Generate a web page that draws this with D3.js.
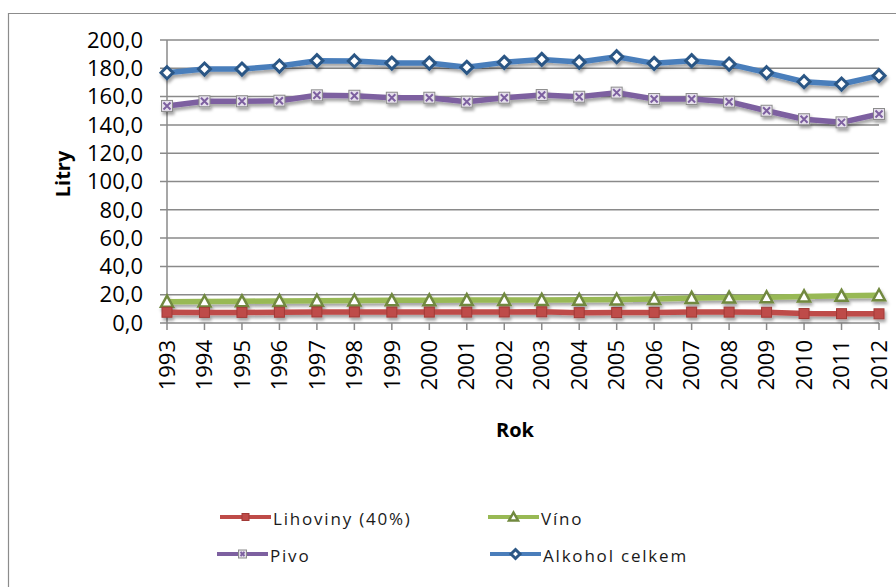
<!DOCTYPE html>
<html><head><meta charset="utf-8">
<script src="https://cdn.jsdelivr.net/npm/d3@7"></script>
<style>body{margin:0;background:#fff}svg{display:block}</style>
</head><body>
<svg id="c" width="896" height="587"></svg>
<script>
const years = ["1993","1994","1995","1996","1997","1998","1999","2000","2001","2002","2003","2004","2005","2006","2007","2008","2009","2010","2011","2012"];
const lihoviny = [7.6,7.5,7.5,7.6,7.8,7.8,7.7,7.7,7.7,7.8,7.9,7.3,7.4,7.5,7.7,7.7,7.6,6.7,6.6,6.5];
const vino = [15.1,15.2,15.3,15.6,15.8,15.9,16.0,16.0,16.2,16.3,16.3,16.4,16.6,16.9,17.7,18.0,18.2,18.8,19.2,19.6];
const pivo = [153.4,156.7,156.7,157.1,160.9,160.6,159.2,159.2,156.4,159.2,161.1,159.9,162.8,158.3,158.3,156.4,150.0,144.0,141.8,147.7];
const alkohol = [176.9,179.5,179.5,181.6,185.4,185.2,183.7,183.7,180.7,184.2,186.3,184.4,188.2,183.5,185.4,183.0,176.9,170.5,168.9,174.8];
const yTicks = [0,20,40,60,80,100,120,140,160,180,200];
const seriesNames = ["Lihoviny (40%)","Víno","Pivo","Alkohol celkem"];

const svg = d3.select("#c");
const font = "Open Sans, Lato, sans-serif";
// outer frame
svg.append("path").attr("d","M8.5,587V13.5H896").attr("fill","none").attr("stroke","#8c8c8c").attr("stroke-width",1.2);

const defs = svg.append("defs");
const f = defs.append("filter").attr("id","sh").attr("x","-10%").attr("y","-50%").attr("width","120%").attr("height","300%");
f.append("feDropShadow").attr("dx",1.5).attr("dy",3).attr("stdDeviation",1.8).attr("flood-color","#000").attr("flood-opacity",0.35);

const x = d3.scalePoint().domain(years).range([167, 879]);
const y = d3.scaleLinear().domain([0,200]).range([323, 40]);

const grid = "#8a8a8a";
// gridlines
svg.append("g").selectAll("line").data(yTicks).join("line")
  .attr("x1",160).attr("x2",879).attr("y1",d=>y(d)).attr("y2",d=>y(d))
  .attr("stroke",grid).attr("stroke-width",1.5);
// y axis line
svg.append("line").attr("x1",167).attr("x2",167).attr("y1",y(200)).attr("y2",y(0)).attr("stroke",grid).attr("stroke-width",1.5);
// x ticks
svg.append("g").selectAll("line").data(years).join("line")
  .attr("x1",d=>x(d)).attr("x2",d=>x(d)).attr("y1",y(0)).attr("y2",y(0)+7)
  .attr("stroke",grid).attr("stroke-width",1.5);

// y labels
svg.append("g").selectAll("text").data(yTicks).join("text")
  .attr("x",143).attr("y",d=>y(d)).attr("dy","0.35em").attr("text-anchor","end")
  .attr("font-family",font).attr("font-size",22).attr("fill","#000")
  .text(d=>d.toFixed(1).replace(".",","));
// x labels
svg.append("g").selectAll("text").data(years).join("text")
  .attr("transform",d=>`translate(${x(d)},340) rotate(-90)`)
  .attr("dy","0.35em").attr("text-anchor","end")
  .attr("font-family",font).attr("font-size",22).attr("fill","#000")
  .text(d=>d);
// axis titles
svg.append("text").attr("transform","translate(63,174) rotate(-90)").attr("dy","0.35em")
  .attr("text-anchor","middle").attr("font-family",font).attr("font-weight","bold").attr("font-size",20).text("Litry");
svg.append("text").attr("x",515).attr("y",437).attr("text-anchor","middle")
  .attr("font-family",font).attr("font-weight","bold").attr("font-size",20).text("Rok");

const colors = {li:"#be4b48", vi:"#98b954", pi:"#7d60a0", al:"#4a7ebb"};
const line = d3.line().x((d,i)=>x(years[i])).y(d=>y(d));

function marker(g, type, cx, cy, s) {
  if (type==="li") {
    g.append("rect").attr("x",cx-s).attr("y",cy-s).attr("width",2*s).attr("height",2*s)
      .attr("fill",colors.li).attr("stroke","#a13a37").attr("stroke-width",1);
  } else if (type==="vi") {
    g.append("path").attr("d",`M${cx},${cy-s-1}L${cx+s+1},${cy+s}L${cx-s-1},${cy+s}Z`)
      .attr("fill","#fff").attr("stroke","#71893f").attr("stroke-width",2.5);
  } else if (type==="pi") {
    g.append("rect").attr("x",cx-s).attr("y",cy-s).attr("width",2*s).attr("height",2*s)
      .attr("fill","#e6e0ec").attr("stroke","#8c8c8c").attr("stroke-width",1);
    g.append("path").attr("d",`M${cx-s+2},${cy-s+2}L${cx+s-2},${cy+s-2}M${cx+s-2},${cy-s+2}L${cx-s+2},${cy+s-2}`)
      .attr("stroke","#7d60a0").attr("stroke-width",2);
  } else {
    g.append("path").attr("d",`M${cx},${cy-s-1}L${cx+s+1},${cy}L${cx},${cy+s+1}L${cx-s-1},${cy}Z`)
      .attr("fill","#fff").attr("stroke","#2c5785").attr("stroke-width",3);
  }
}

const series = [
  {k:"vi", v:vino},
  {k:"li", v:lihoviny},
  {k:"pi", v:pivo},
  {k:"al", v:alkohol}
];
series.forEach(s=>{
  const g = svg.append("g").attr("filter","url(#sh)");
  g.append("path").datum(s.v).attr("d",line).attr("fill","none")
    .attr("stroke",colors[s.k]).attr("stroke-width",5.5).attr("stroke-linejoin","round");
  s.v.forEach((v,i)=>marker(g, s.k, x(years[i]), y(v), s.k==="pi"?5.5:5));
});

// legend
const legend = [
  {k:"li", name:seriesNames[0], x:220, y:517},
  {k:"vi", name:seriesNames[1], x:488, y:517},
  {k:"pi", name:seriesNames[2], x:217, y:554},
  {k:"al", name:seriesNames[3], x:490, y:554}
];
legend.forEach(l=>{
  const g = svg.append("g");
  g.append("line").attr("x1",l.x).attr("x2",l.x+51).attr("y1",l.y).attr("y2",l.y)
    .attr("stroke",colors[l.k]).attr("stroke-width",4);
  marker(g, l.k, l.x+25.5, l.y, l.k==="pi"?4:3.5);
  g.append("text").attr("x",l.x+53).attr("y",l.y+2).attr("dy","0.35em")
    .attr("font-family",font).attr("font-size",17).attr("letter-spacing",1.8).attr("fill","#1a1a1a")
    .text(l.name);
});
</script>
</body></html>
